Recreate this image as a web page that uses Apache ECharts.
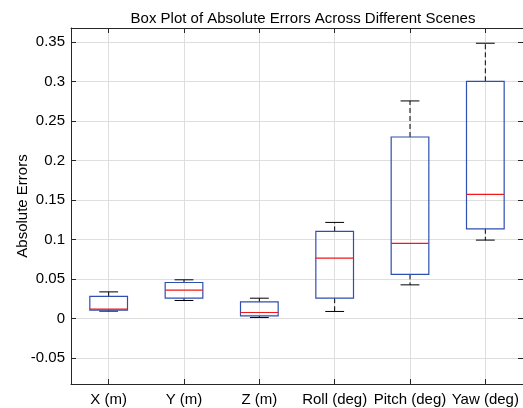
<!DOCTYPE html>
<html>
<head>
<meta charset="utf-8">
<script src="https://cdn.jsdelivr.net/npm/echarts@6/dist/echarts.min.js"></script>
<style>html,body{margin:0;padding:0;background:#fff}#c{width:523px;height:408px}</style>
</head>
<body>
<div id="c"></div>
<script>
const categories = ['X (m)', 'Y (m)', 'Z (m)', 'Roll (deg)', 'Pitch (deg)', 'Yaw (deg)'];
const lowerWhisker = [0.0093, 0.0228, 0.0013, 0.0089, 0.0426, 0.0993];
const q1 = [0.0105, 0.0257, 0.0033, 0.0257, 0.0558, 0.1136];
const median = [0.0118, 0.0359, 0.0076, 0.0765, 0.0951, 0.1572];
const q3 = [0.0279, 0.0456, 0.0210, 0.1103, 0.2299, 0.3005];
const upperWhisker = [0.0337, 0.0490, 0.0257, 0.1217, 0.2756, 0.3487];
const yTicks = [-0.05, 0, 0.05, 0.1, 0.15, 0.2, 0.25, 0.3, 0.35];
const xTicks = [1, 2, 3, 4, 5, 6];

const data = categories.map((c, i) => [i + 1, lowerWhisker[i], q1[i], median[i], q3[i], upperWhisker[i]]);

const FONT = 'Liberation Sans, Arial, Helvetica, sans-serif';
const AX = '#262626';
const GRID = '#dedede';

const chart = echarts.init(document.getElementById('c'));
chart.setOption({
  animation: false,
  backgroundColor: '#fff',
  title: {
    text: 'Box Plot of Absolute Errors Across Different Scenes',
    left: 298, top: 6, textAlign: 'center',
    textStyle: { fontFamily: FONT, fontSize: 15, fontWeight: 'normal', color: '#000' }
  },
  grid: { left: 71, right: 0, top: 28, bottom: 24, containLabel: false, outerBoundsMode: 'none' },
  xAxis: [
    {
      type: 'value', min: 0.5, max: 6.5, position: 'bottom',
      axisLine: { show: true, onZero: false, lineStyle: { color: AX, width: 1 } },
      axisTick: { show: true, inside: true, length: 5, customValues: xTicks, lineStyle: { color: AX } },
      axisLabel: { show: true, customValues: xTicks, margin: 8, fontFamily: FONT, fontSize: 15, color: '#000',
        hideOverlap: false, formatter: v => categories[Math.round(v) - 1] },
      splitLine: { show: true, lineStyle: { color: GRID, width: 1 } }
    },
    {
      type: 'value', min: 0.5, max: 6.5, position: 'top',
      axisLine: { show: true, onZero: false, lineStyle: { color: AX, width: 1 } },
      axisTick: { show: true, inside: true, length: 5, customValues: xTicks, lineStyle: { color: AX } },
      axisLabel: { show: false },
      splitLine: { show: false }
    }
  ],
  yAxis: [
    {
      type: 'value', min: -0.083, max: 0.368, position: 'left',
      name: 'Absolute Errors', nameLocation: 'middle', nameGap: 41, nameMoveOverlap: false,
      nameTextStyle: { fontFamily: FONT, fontSize: 15, color: '#000' },
      axisLine: { show: true, onZero: false, lineStyle: { color: AX, width: 1 } },
      axisTick: { show: true, inside: true, length: 5, customValues: yTicks, lineStyle: { color: AX } },
      axisLabel: { show: true, customValues: yTicks, margin: 6, fontFamily: FONT, fontSize: 15, color: '#000',
        formatter: v => String(Math.round(v * 1000) / 1000) },
      splitLine: { show: true, lineStyle: { color: GRID, width: 1 } }
    },
    {
      type: 'value', min: -0.083, max: 0.368, position: 'right',
      axisLine: { show: true, onZero: false, lineStyle: { color: AX, width: 1 } },
      axisTick: { show: true, inside: true, length: 5, customValues: yTicks, lineStyle: { color: AX } },
      axisLabel: { show: false },
      splitLine: { show: false }
    }
  ],
  series: [{
    type: 'custom',
    xAxisIndex: 0, yAxisIndex: 0,
    data: data,
    encode: { x: 0, y: [1, 2, 3, 4, 5] },
    renderItem: function (params, api) {
      const x = api.value(0);
      const lw = api.value(1), b1 = api.value(2), md = api.value(3), b3 = api.value(4), uw = api.value(5);
      const bh = 0.25, ch = 0.125;
      const pL3 = api.coord([x - bh, b3]);
      const pR1 = api.coord([x + bh, b1]);
      const pc = (v) => api.coord([x, v]);
      const boxStroke = { stroke: '#2f4fb0', lineWidth: 1.2, fill: null };
      const children = [
        { type: 'line', shape: { x1: pc(b3)[0], y1: pc(b3)[1], x2: pc(uw)[0], y2: pc(uw)[1] },
          style: { stroke: '#000', lineWidth: 1, lineDash: [5, 3] } },
        { type: 'line', shape: { x1: pc(b1)[0], y1: pc(b1)[1], x2: pc(lw)[0], y2: pc(lw)[1] },
          style: { stroke: '#000', lineWidth: 1, lineDash: [5, 3] } },
        { type: 'line', shape: { x1: api.coord([x - ch, uw])[0], y1: pc(uw)[1], x2: api.coord([x + ch, uw])[0], y2: pc(uw)[1] },
          style: { stroke: '#000', lineWidth: 1 } },
        { type: 'line', shape: { x1: api.coord([x - ch, lw])[0], y1: pc(lw)[1], x2: api.coord([x + ch, lw])[0], y2: pc(lw)[1] },
          style: { stroke: '#000', lineWidth: 1 } },
        { type: 'rect', shape: { x: pL3[0], y: pL3[1], width: pR1[0] - pL3[0], height: pR1[1] - pL3[1] },
          style: boxStroke },
        { type: 'line', shape: { x1: api.coord([x - bh, md])[0], y1: pc(md)[1], x2: api.coord([x + bh, md])[0], y2: pc(md)[1] },
          style: { stroke: '#f01818', lineWidth: 1.2 } }
      ];
      return { type: 'group', children: children };
    }
  }]
});
</script>
</body>
</html>
